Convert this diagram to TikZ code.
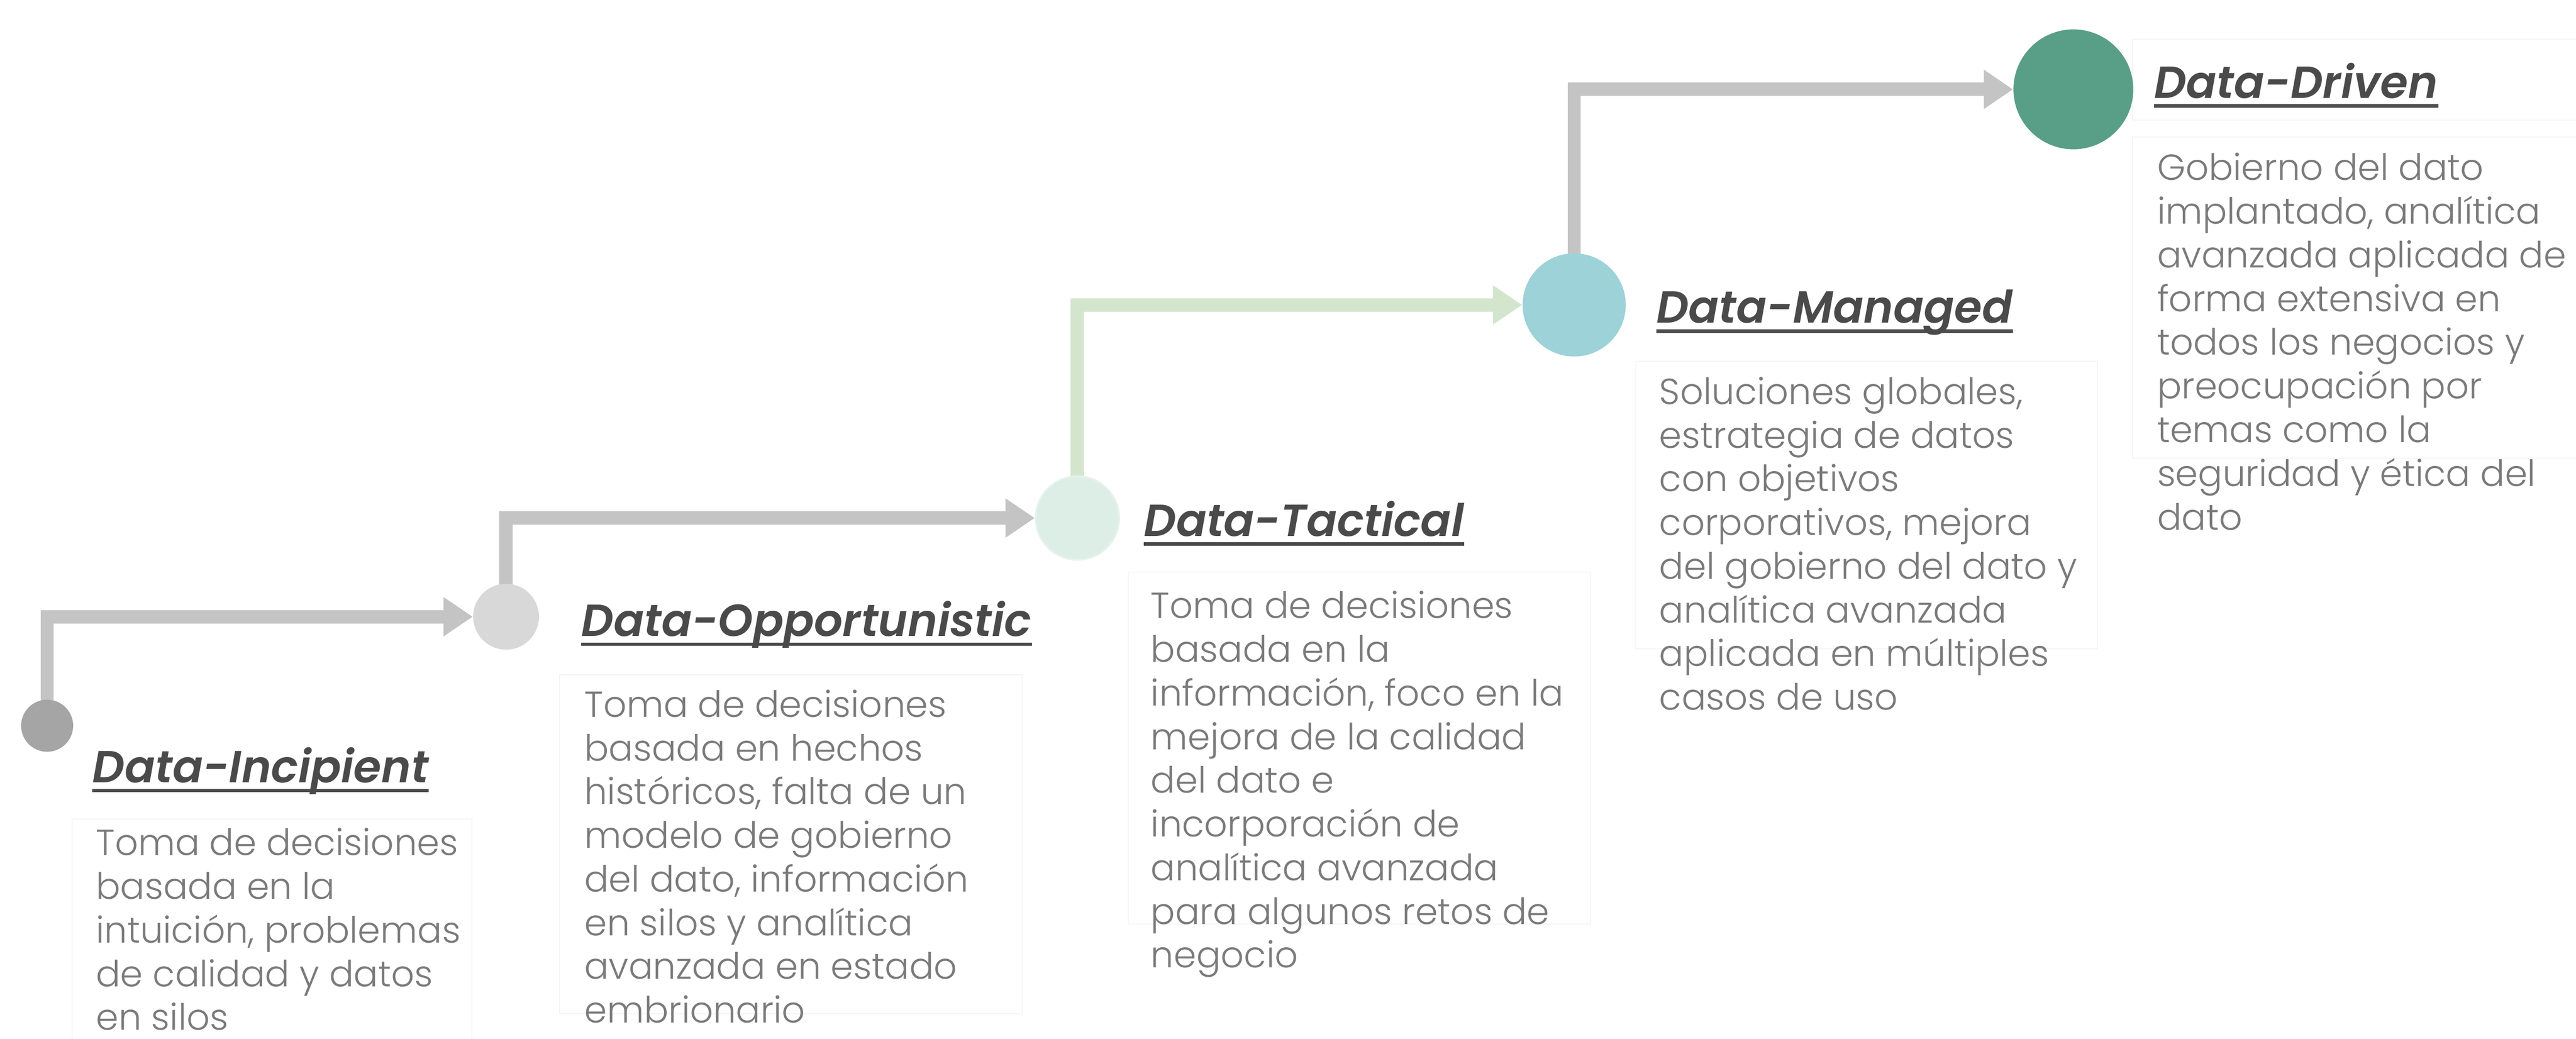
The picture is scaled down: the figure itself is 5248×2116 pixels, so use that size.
\documentclass[tikz,border=0pt]{standalone}
\usepackage{fontspec}
\setmainfont{Poppins}
\newfontfamily\bodyfont{Poppins Light}
\newfontfamily\titlefont{Poppins SemiBold Italic}
\usetikzlibrary{arrows.meta}
\definecolor{linegray}{HTML}{C4C4C4}
\definecolor{linegreen}{HTML}{D3E6CD}
\definecolor{cone}{HTML}{A5A5A5}
\definecolor{ctwo}{HTML}{D8D8D8}
\definecolor{cthree}{HTML}{DCEEE6}
\definecolor{cthreeb}{HTML}{E6F2EE}
\definecolor{cfour}{HTML}{9DD2D8}
\definecolor{cfive}{HTML}{599E87}
\definecolor{titlec}{HTML}{4A4A4A}
\definecolor{bodyc}{HTML}{7A7A7A}
\definecolor{faintc}{HTML}{F5F5F5}
\pgfdeclarelayer{bg}
\pgfsetlayers{bg,main}
\begin{document}
\begin{tikzpicture}[x=0.01cm,y=-0.01cm,
  dot/.style={circle, inner sep=0pt, minimum size=#1},
  conn/.style={line width=7.7pt, line join=miter, -{Triangle[length=17pt,width=21.6pt]}},
  ttl/.style={anchor=base west, inner sep=0pt, font=\fontsize{26}{30}\selectfont\titlefont, text=titlec},
  uline/.style={titlec, line width=2pt},
  desc/.style={anchor=north west, inner sep=0pt, align=left, font=\fontsize{21}{25.3}\selectfont\bodyfont, text=bodyc},
  faint/.style={draw=faintc, line width=0.6pt}]
\useasboundingbox (0,0) rectangle (5248,2116);
\clip (0,0) rectangle (5248,2116);

% faint frames
\draw[faint] (147,1668) rectangle (961,2140);
\draw[faint] (1140,1374) rectangle (2082,2065);
\draw[faint] (2299,1165) rectangle (3240,1882);
\draw[faint] (3332,736) rectangle (4273,1321);
\draw[faint] (4344,80) rectangle (5260,245);
\draw[faint] (4344,279) rectangle (5260,933);

% circles
\node[dot=1.06cm, fill=cone] (c1) at (96,1478) {};
\node[dot=1.34cm, fill=ctwo] (c2) at (1031,1256) {};
\node[dot=1.70cm, fill=cthree, draw=cthreeb, line width=1pt] (c3) at (2195,1055) {};
\node[dot=2.10cm, fill=cfour] (c4) at (3207,621) {};
\node[dot=2.44cm, fill=cfive] (c5) at (4224,182) {};

% connectors
\begin{pgfonlayer}{bg}
\draw[conn, linegray] (c1.center) |- (c2.west);
\draw[conn, linegray] (c2.center) |- (c3.west);
\draw[conn, linegreen] (c3.center) |- (c4.west);
\draw[conn, linegray] (c4.center) |- (c5.west);
\end{pgfonlayer}

% titles
\node[ttl] (t1) at (188,1594) {Data-Incipient};
\node[ttl] (t2) at (1184,1296) {Data-Opportunistic};
\node[ttl] (t3) at (2330,1092) {Data-Tactical};
\node[ttl] (t4) at (3374,658) {Data-Managed};
\node[ttl] (t5) at (4388,200) {Data-Driven};
\foreach \t in {t1,t2,t3,t4,t5}
  \draw[uline] ([yshift=-0.16cm]\t.base west) -- ([yshift=-0.16cm]\t.base east);

% descriptions
\node[desc] (b1) at (195,1686) {Toma de decisiones\\basada en la\\intuición, problemas\\de calidad y datos\\en silos};
\node[desc] (b2) at (1190,1404) {Toma de decisiones\\basada en hechos\\históricos, falta de un\\modelo de gobierno\\del dato, información\\en silos y analítica\\avanzada en estado\\embrionario};
\node[desc] (b3) at (2344,1203) {Toma de decisiones\\basada en la\\información, foco en la\\mejora de la calidad\\del dato e\\incorporación de\\analítica avanzada\\para algunos retos de\\negocio};
\node[desc] (b4) at (3380,767) {Soluciones globales,\\estrategia de datos\\con objetivos\\corporativos, mejora\\del gobierno del dato y\\analítica avanzada\\aplicada en múltiples\\casos de uso};
\node[desc] (b5) at (4394,311) {Gobierno del dato\\implantado, analítica\\avanzada aplicada de\\forma extensiva en\\todos los negocios y\\preocupación por\\temas como la\\seguridad y ética del\\dato};
\end{tikzpicture}
\end{document}
